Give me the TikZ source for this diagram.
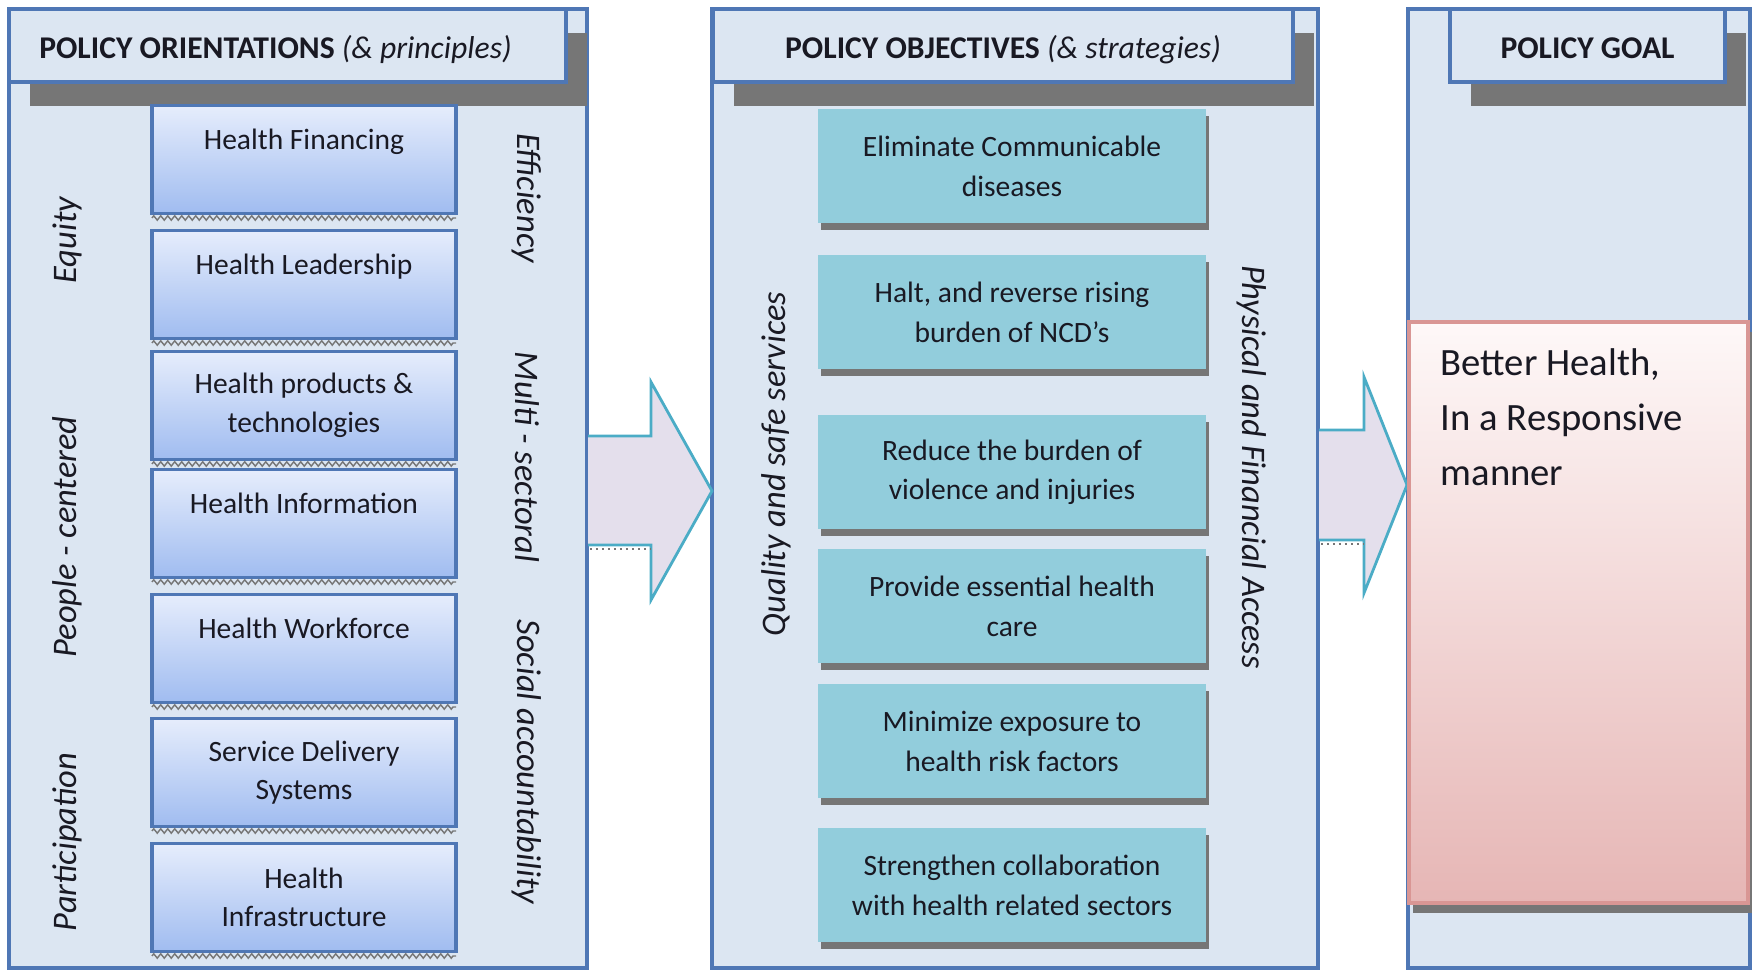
\documentclass[tikz,border=0pt]{standalone}
\usepackage{fontspec}
\setmainfont{Carlito}
\usetikzlibrary{positioning,shadows,decorations.pathmorphing}

\definecolor{panelfill}{RGB}{220,230,242}
\definecolor{panelline}{RGB}{79,119,181}
\definecolor{boxtop}{RGB}{230,237,252}
\definecolor{boxbottom}{RGB}{160,188,240}
\definecolor{objfill}{RGB}{146,205,220}
\definecolor{shadowgrey}{RGB}{118,118,118}
\definecolor{arrowfill}{RGB}{228,223,236}
\definecolor{arrowline}{RGB}{75,172,198}
\definecolor{goaltop}{RGB}{254,248,248}
\definecolor{goalbottom}{RGB}{230,182,181}
\definecolor{goalline}{RGB}{217,150,148}
\definecolor{ink}{RGB}{25,25,35}

\tikzset{
    panel/.style={draw=panelline,line width=0.9pt,fill=panelfill,inner sep=0pt,outer sep=0pt},
    header/.style={panel,minimum height=7.3mm,text=ink,font=\fontsize{9}{10}\selectfont,
        text height=3.45mm,text depth=0.78mm,
        drop shadow={shadow xshift=2.1mm,shadow yshift=-2.4mm,fill=shadowgrey,opacity=1}},
    orientbox/.style={draw=panelline,line width=0.9pt,top color=boxtop,bottom color=boxbottom,
        minimum width=30.4mm,minimum height=10.8mm,inner sep=0pt,outer sep=0pt,
        align=center,text=ink,font=\fontsize{8.4}{11}\selectfont},
    oneline/.style={text depth=4mm},
    objbox/.style={fill=objfill,minimum width=38.8mm,minimum height=11.4mm,inner sep=0pt,outer sep=0pt,
        align=center,text=ink,font=\fontsize{8.4}{11.2}\selectfont,
        drop shadow={shadow xshift=0.3mm,shadow yshift=-0.7mm,fill=shadowgrey,opacity=1}},
    goalbox/.style={draw=goalline,line width=1pt,top color=goaltop,bottom color=goalbottom,
        inner sep=0pt,outer sep=0pt,
        drop shadow={shadow xshift=0.4mm,shadow yshift=-1mm,fill=shadowgrey,opacity=1}},
    goaltext/.style={align=left,inner sep=0pt,text=ink,font=\fontsize{11}{15.6}\selectfont},
    principle/.style={text=ink,font=\fontsize{9.8}{12}\selectfont\itshape},
    bigarrow/.style={draw=arrowline,line width=0.8pt,line join=miter},
    zz/.style={draw=shadowgrey,line width=0.4pt,decorate,
        decoration={zigzag,segment length=0.7mm,amplitude=0.22mm}}
}

\begin{document}
\begin{tikzpicture}[x=0.1mm,y=-0.1mm]
\useasboundingbox (0,0) rectangle (1754,970);

% three columns
\node[panel,minimum width=57.8mm,minimum height=95.9mm] (orient) at (298,488.5) {};
\node[panel,minimum width=60.6mm,minimum height=95.9mm] (object) at (1015,488.5) {};
\node[panel,minimum width=34.2mm,minimum height=95.9mm] (goal) at (1579,488.5) {};

% column headings
\node[header,minimum width=55.7mm] (orienthead) at (287.5,45.5)
    {\textbf{POLICY ORIENTATIONS} \textit{(\& principles)}\kern2.4mm};
\node[header,minimum width=58mm] (objecthead) at (1003,45.5)
    {\textbf{POLICY OBJECTIVES} \textit{(\& strategies)}};
\node[header,minimum width=27.5mm] (goalhead) at (1587.5,45.5) {\textbf{POLICY GOAL}};

% block arrows
\fill[arrowfill] (588,436) -- (651,436) -- (651,382) -- (712,491) -- (651,600) -- (651,545) -- (588,545) -- cycle;
\draw[bigarrow] (588,436) -- (651,436) -- (651,382) -- (712,491) -- (651,600) -- (651,545) -- (588,545);
\draw[shadowgrey,densely dotted,line width=0.7pt] (590,549) -- (650,549);
\fill[arrowfill] (1319,430) -- (1364,430) -- (1364,377) -- (1407,485) -- (1364,593) -- (1364,540) -- (1319,540) -- cycle;
\draw[bigarrow] (1319,430) -- (1364,430) -- (1364,377) -- (1407,485) -- (1364,593) -- (1364,540) -- (1319,540);
\draw[shadowgrey,densely dotted,line width=0.7pt] (1321,544) -- (1363,544);

% health system building blocks
\node[orientbox,oneline] (hfin) at (304,159.5) {Health Financing};
\node[orientbox,oneline,below=1.7mm of hfin] (hlead) {Health Leadership};
\node[orientbox,below=1.3mm of hlead] (hprod) {Health products \&\\technologies};
\node[orientbox,oneline,below=1.0mm of hprod] (hinfo) {Health Information};
\node[orientbox,oneline,below=1.7mm of hinfo] (hwork) {Health Workforce};
\node[orientbox,below=1.6mm of hwork] (hserv) {Service Delivery\\Systems};
\node[orientbox,below=1.7mm of hserv] (hinfra) {Health\\Infrastructure};
\foreach \b in {hfin,hlead,hprod,hinfo,hwork,hserv,hinfra}
    \draw[zz] ([yshift=-0.45mm]\b.south west) -- ([yshift=-0.45mm]\b.south east);

% principles either side
\node[principle,rotate=90] (equity) at (67,240) {Equity};
\node[principle,rotate=90] (people) at (67,537) {People - centered};
\node[principle,rotate=90] (particip) at (67,842) {Participation};
\node[principle,rotate=-90] (effic) at (527,198) {Efficiency};
\node[principle,rotate=-90] (multi) at (527,457) {Multi - sectoral};
\node[principle,rotate=-90] (social) at (527,762) {Social accountability};

% objectives
\node[objbox] (elim) at (1012,166.5) {Eliminate Communicable\\diseases};
\node[objbox,below=3.2mm of elim] (halt) {Halt, and reverse rising\\burden of NCD’s};
\node[objbox,below=4.6mm of halt] (reduce) {Reduce the burden of\\violence and injuries};
\node[objbox,below=2.0mm of reduce] (provide) {Provide essential health\\care};
\node[objbox,below=2.1mm of provide] (minimize) {Minimize exposure to\\health risk factors};
\node[objbox,below=3.0mm of minimize] (strengthen) {Strengthen collaboration\\with health related sectors};

\node[principle,rotate=90] (quality) at (776,464) {Quality and safe services};
\node[principle,rotate=-90] (access) at (1252,467) {Physical and Financial Access};

% goal
\node[goalbox,anchor=north west,minimum width=33.9mm,minimum height=58.1mm] (better) at (1409,322) {};
\node[goaltext,anchor=north west] (bettertext) at ([xshift=3.1mm,yshift=-2.6mm]better.north west)
    {Better Health,\\In a Responsive\\manner};
\end{tikzpicture}
\end{document}
